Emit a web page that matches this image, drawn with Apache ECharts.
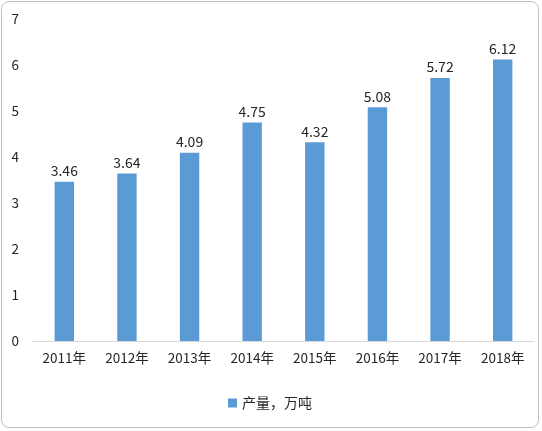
<!DOCTYPE html>
<html><head><meta charset="utf-8">
<script src="https://cdn.jsdelivr.net/npm/echarts@6/dist/echarts.min.js"></script>
<style>html,body{margin:0;padding:0;background:#fff}
#c{position:absolute;left:1px;top:1px;width:538px;height:427px;border:1px solid #bfbfbf;border-radius:8px;box-sizing:border-box}</style>
</head><body><div id="c"></div>
<script>
const categories=["2011年","2012年","2013年","2014年","2015年","2016年","2017年","2018年"];
const values=[3.46,3.64,4.09,4.75,4.32,5.08,5.72,6.12];
const seriesName="产量，万吨";
const chart=echarts.init(document.getElementById('c'));
const font="Noto Sans CJK SC";
const tc='#262626';
chart.setOption({
  animation:false,
  grid:{left:31,right:4,top:17,bottom:86},
  legend:{bottom:12,left:'center',itemWidth:9,itemHeight:9,icon:'rect',textStyle:{fontFamily:font,fontSize:14,color:tc},data:[seriesName]},
  xAxis:{type:'category',data:categories,axisTick:{show:false},axisLine:{lineStyle:{color:'#d9d9d9'}},
    axisLabel:{fontFamily:font,fontSize:13.5,color:tc,margin:10}},
  yAxis:{type:'value',min:0,max:7,interval:1,splitLine:{show:false},axisLine:{show:false},axisTick:{show:false},
    axisLabel:{fontFamily:font,fontSize:13.5,color:tc,margin:14}},
  series:[{name:seriesName,type:'bar',data:values,barWidth:'31%',itemStyle:{color:'#5b9bd5'},
    label:{show:true,position:'top',fontFamily:font,fontSize:14,color:tc,distance:4}}]
});
</script></body></html>
